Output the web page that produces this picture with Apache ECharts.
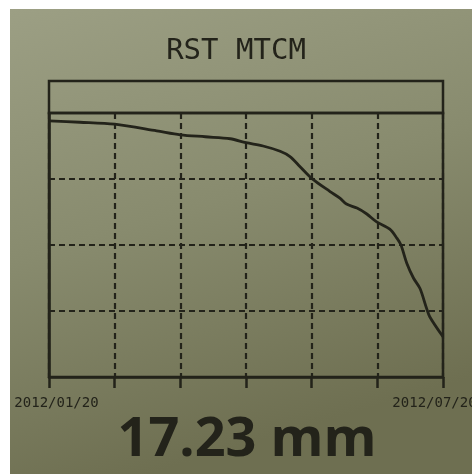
<!DOCTYPE html>
<html lang="en">
<head>
  <meta charset="UTF-8">
  <title>RST MTCM</title>
  <style>
  html, body {
    margin: 0;
    padding: 0;
    background: #ffffff;
  }
  #main {
    position: absolute;
    left: 10px;
    top: 9px;
    width: 462px;
    height: 465px;
  }
  </style>
  <script src="https://cdn.jsdelivr.net/npm/echarts@6/dist/echarts.min.js"></script>
</head>
<body>
  <div id="main"></div>
  <script>
  // months since 2012/01/20, and reading at that point
  var months = [0, 0.47, 1.0, 1.64, 2.0, 2.38, 2.76, 3.0, 3.26, 3.52, 3.67, 3.82, 4.0,
    4.28, 4.43, 4.53, 4.69, 4.84, 4.99, 5.19, 5.3, 5.36, 5.45, 5.55, 5.65, 5.75, 5.8, 6.0];
  var values = [3.88, 3.86, 3.83, 3.73, 3.67, 3.64, 3.61, 3.55, 3.5, 3.42, 3.34, 3.19, 3.01,
    2.81, 2.71, 2.62, 2.56, 2.47, 2.35, 2.24, 2.1, 2.0, 1.72, 1.5, 1.34, 1.04, 0.91, 0.61];
  var xLabels = ['2012/01/20', '', '', '', '', '', '2012/07/20'];
  var titleText = 'RST MTCM';
  var readingText = '17.23 mm';

  var ink = '#23231a';
  var data = months.map(function(m, i) {
    return [m, values[i]];
  });

  var myChart = echarts.init(document.getElementById('main'));
  myChart.setOption({
    animation: false,
    backgroundColor: {
      type: 'linear', x: 0, y: 0, x2: 0.3, y2: 1,
      colorStops: [
        { offset: 0, color: '#9c9f84' },
        { offset: 0.5, color: '#888b6e' },
        { offset: 1, color: '#6e6f51' }
      ]
    },
    grid: [
      {
        left: 39, right: 29, top: 104, bottom: 97,
        outerBoundsMode: 'none', containLabel: false,
        show: true, borderColor: ink, borderWidth: 2.5
      },
      {
        left: 39, right: 29, top: 72, height: 32,
        outerBoundsMode: 'none', containLabel: false,
        show: true, borderColor: ink, borderWidth: 2.5
      }
    ],
    graphic: [
      {
        type: 'text', x: 226, y: 42,
        style: {
          text: titleText, fill: ink, align: 'center', verticalAlign: 'middle',
          font: '29px "DejaVu Sans Mono"'
        }
      },
      {
        type: 'text', x: 237, y: 432,
        style: {
          text: readingText, fill: ink, align: 'center', verticalAlign: 'middle',
          font: 'bold 54px "Open Sans"'
        }
      }
    ],
    xAxis: {
      type: 'value', min: 0, max: 6, interval: 1, gridIndex: 0,
      axisLine: { lineStyle: { color: ink, width: 2.5 } },
      axisTick: { show: true, length: 11, lineStyle: { color: ink, width: 2.5 } },
      axisLabel: {
        margin: 19,
        showMinLabel: true, showMaxLabel: true,
        hideOverlap: false,
        formatter: function(v) {
          var s = xLabels[Math.round(v)];
          if (!s) return '';
          return v === 0 ? '{l|' + s + '}' : '{r|' + s + '}';
        },
        rich: {
          l: { color: ink, fontFamily: 'DejaVu Sans Mono', fontSize: 14, padding: [0, 0, 0, 15] },
          r: { color: ink, fontFamily: 'DejaVu Sans Mono', fontSize: 14, padding: [0, 17, 0, 0] }
        }
      },
      splitLine: { show: true, lineStyle: { color: ink, width: 2.2, type: [6, 4] } }
    },
    yAxis: {
      type: 'value', min: 0, max: 4, interval: 1, gridIndex: 0,
      axisLine: { show: true, lineStyle: { color: ink, width: 2.5 } },
      axisTick: { show: false },
      axisLabel: { show: false },
      splitLine: { show: true, lineStyle: { color: ink, width: 2.2, type: [6, 4] } }
    },
    series: [{
      type: 'line',
      data: data,
      smooth: 0.3,
      showSymbol: false,
      lineStyle: { color: ink, width: 2.8 }
    }]
  });
  </script>
</body>
</html>
